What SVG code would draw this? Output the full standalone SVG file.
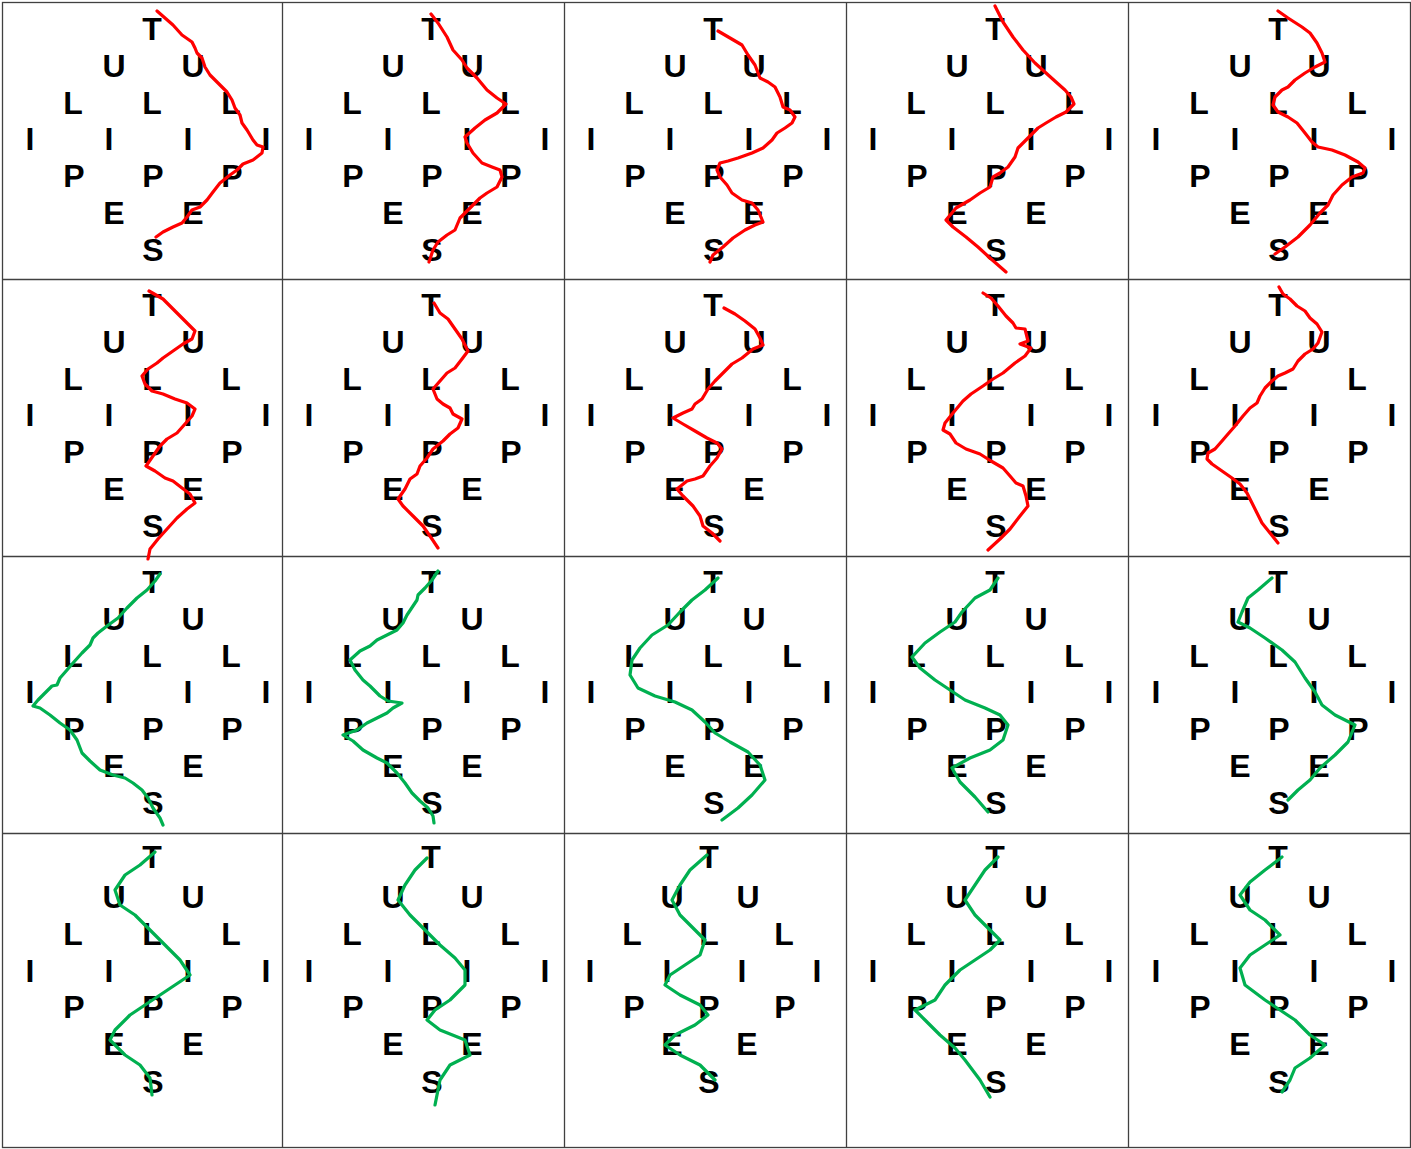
<svg xmlns="http://www.w3.org/2000/svg" width="1411" height="1149" viewBox="0 0 1411 1149">
<style>
.grid{fill:none;stroke:#404040;stroke-width:1.3}
text{font-family:"Liberation Sans",Arial,sans-serif;font-weight:bold;font-size:32px;fill:#000;text-anchor:middle}
.r{fill:none;stroke:#FF0000;stroke-width:3.2;stroke-linejoin:round;stroke-linecap:round}
.g{fill:none;stroke:#00B050;stroke-width:3.2;stroke-linejoin:round;stroke-linecap:round}
</style>
<rect width="1411" height="1149" fill="#fff"/>
<g id="grid" class="grid">
<rect x="2.5" y="2.5" width="1408" height="1145"/>
<line x1="282.5" y1="2.5" x2="282.5" y2="1147.5"/>
<line x1="564.5" y1="2.5" x2="564.5" y2="1147.5"/>
<line x1="846.5" y1="2.5" x2="846.5" y2="1147.5"/>
<line x1="1128.5" y1="2.5" x2="1128.5" y2="1147.5"/>
<line x1="2.5" y1="279.5" x2="1410.5" y2="279.5"/>
<line x1="2.5" y1="556.5" x2="1410.5" y2="556.5"/>
<line x1="2.5" y1="833.5" x2="1410.5" y2="833.5"/>
</g>
<g id="cell-r1c1" transform="translate(0,0)"><text x="152" y="40">T</text><text x="114" y="77">U</text><text x="193" y="77">U</text><text x="73" y="114">L</text><text x="152" y="114">L</text><text x="231" y="114">L</text><text x="30" y="150">I</text><text x="109" y="150">I</text><text x="188" y="150">I</text><text x="266" y="150">I</text><text x="74" y="187">P</text><text x="153" y="187">P</text><text x="232" y="187">P</text><text x="114" y="224">E</text><text x="193" y="224">E</text><text x="153" y="261">S</text></g>
<g id="cell-r1c2" transform="translate(279,0)"><text x="152" y="40">T</text><text x="114" y="77">U</text><text x="193" y="77">U</text><text x="73" y="114">L</text><text x="152" y="114">L</text><text x="231" y="114">L</text><text x="30" y="150">I</text><text x="109" y="150">I</text><text x="188" y="150">I</text><text x="266" y="150">I</text><text x="74" y="187">P</text><text x="153" y="187">P</text><text x="232" y="187">P</text><text x="114" y="224">E</text><text x="193" y="224">E</text><text x="153" y="261">S</text></g>
<g id="cell-r1c3" transform="translate(561,0)"><text x="152" y="40">T</text><text x="114" y="77">U</text><text x="193" y="77">U</text><text x="73" y="114">L</text><text x="152" y="114">L</text><text x="231" y="114">L</text><text x="30" y="150">I</text><text x="109" y="150">I</text><text x="188" y="150">I</text><text x="266" y="150">I</text><text x="74" y="187">P</text><text x="153" y="187">P</text><text x="232" y="187">P</text><text x="114" y="224">E</text><text x="193" y="224">E</text><text x="153" y="261">S</text></g>
<g id="cell-r1c4" transform="translate(843,0)"><text x="152" y="40">T</text><text x="114" y="77">U</text><text x="193" y="77">U</text><text x="73" y="114">L</text><text x="152" y="114">L</text><text x="231" y="114">L</text><text x="30" y="150">I</text><text x="109" y="150">I</text><text x="188" y="150">I</text><text x="266" y="150">I</text><text x="74" y="187">P</text><text x="153" y="187">P</text><text x="232" y="187">P</text><text x="114" y="224">E</text><text x="193" y="224">E</text><text x="153" y="261">S</text></g>
<g id="cell-r1c5" transform="translate(1126,0)"><text x="152" y="40">T</text><text x="114" y="77">U</text><text x="193" y="77">U</text><text x="73" y="114">L</text><text x="152" y="114">L</text><text x="231" y="114">L</text><text x="30" y="150">I</text><text x="109" y="150">I</text><text x="188" y="150">I</text><text x="266" y="150">I</text><text x="74" y="187">P</text><text x="153" y="187">P</text><text x="232" y="187">P</text><text x="114" y="224">E</text><text x="193" y="224">E</text><text x="153" y="261">S</text></g>
<g id="cell-r2c1" transform="translate(0,276)"><text x="152" y="40">T</text><text x="114" y="77">U</text><text x="193" y="77">U</text><text x="73" y="114">L</text><text x="152" y="114">L</text><text x="231" y="114">L</text><text x="30" y="150">I</text><text x="109" y="150">I</text><text x="188" y="150">I</text><text x="266" y="150">I</text><text x="74" y="187">P</text><text x="153" y="187">P</text><text x="232" y="187">P</text><text x="114" y="224">E</text><text x="193" y="224">E</text><text x="153" y="261">S</text></g>
<g id="cell-r2c2" transform="translate(279,276)"><text x="152" y="40">T</text><text x="114" y="77">U</text><text x="193" y="77">U</text><text x="73" y="114">L</text><text x="152" y="114">L</text><text x="231" y="114">L</text><text x="30" y="150">I</text><text x="109" y="150">I</text><text x="188" y="150">I</text><text x="266" y="150">I</text><text x="74" y="187">P</text><text x="153" y="187">P</text><text x="232" y="187">P</text><text x="114" y="224">E</text><text x="193" y="224">E</text><text x="153" y="261">S</text></g>
<g id="cell-r2c3" transform="translate(561,276)"><text x="152" y="40">T</text><text x="114" y="77">U</text><text x="193" y="77">U</text><text x="73" y="114">L</text><text x="152" y="114">L</text><text x="231" y="114">L</text><text x="30" y="150">I</text><text x="109" y="150">I</text><text x="188" y="150">I</text><text x="266" y="150">I</text><text x="74" y="187">P</text><text x="153" y="187">P</text><text x="232" y="187">P</text><text x="114" y="224">E</text><text x="193" y="224">E</text><text x="153" y="261">S</text></g>
<g id="cell-r2c4" transform="translate(843,276)"><text x="152" y="40">T</text><text x="114" y="77">U</text><text x="193" y="77">U</text><text x="73" y="114">L</text><text x="152" y="114">L</text><text x="231" y="114">L</text><text x="30" y="150">I</text><text x="109" y="150">I</text><text x="188" y="150">I</text><text x="266" y="150">I</text><text x="74" y="187">P</text><text x="153" y="187">P</text><text x="232" y="187">P</text><text x="114" y="224">E</text><text x="193" y="224">E</text><text x="153" y="261">S</text></g>
<g id="cell-r2c5" transform="translate(1126,276)"><text x="152" y="40">T</text><text x="114" y="77">U</text><text x="193" y="77">U</text><text x="73" y="114">L</text><text x="152" y="114">L</text><text x="231" y="114">L</text><text x="30" y="150">I</text><text x="109" y="150">I</text><text x="188" y="150">I</text><text x="266" y="150">I</text><text x="74" y="187">P</text><text x="153" y="187">P</text><text x="232" y="187">P</text><text x="114" y="224">E</text><text x="193" y="224">E</text><text x="153" y="261">S</text></g>
<g id="cell-r3c1" transform="translate(0,553)"><text x="152" y="40">T</text><text x="114" y="77">U</text><text x="193" y="77">U</text><text x="73" y="114">L</text><text x="152" y="114">L</text><text x="231" y="114">L</text><text x="30" y="150">I</text><text x="109" y="150">I</text><text x="188" y="150">I</text><text x="266" y="150">I</text><text x="74" y="187">P</text><text x="153" y="187">P</text><text x="232" y="187">P</text><text x="114" y="224">E</text><text x="193" y="224">E</text><text x="153" y="261">S</text></g>
<g id="cell-r3c2" transform="translate(279,553)"><text x="152" y="40">T</text><text x="114" y="77">U</text><text x="193" y="77">U</text><text x="73" y="114">L</text><text x="152" y="114">L</text><text x="231" y="114">L</text><text x="30" y="150">I</text><text x="109" y="150">I</text><text x="188" y="150">I</text><text x="266" y="150">I</text><text x="74" y="187">P</text><text x="153" y="187">P</text><text x="232" y="187">P</text><text x="114" y="224">E</text><text x="193" y="224">E</text><text x="153" y="261">S</text></g>
<g id="cell-r3c3" transform="translate(561,553)"><text x="152" y="40">T</text><text x="114" y="77">U</text><text x="193" y="77">U</text><text x="73" y="114">L</text><text x="152" y="114">L</text><text x="231" y="114">L</text><text x="30" y="150">I</text><text x="109" y="150">I</text><text x="188" y="150">I</text><text x="266" y="150">I</text><text x="74" y="187">P</text><text x="153" y="187">P</text><text x="232" y="187">P</text><text x="114" y="224">E</text><text x="193" y="224">E</text><text x="153" y="261">S</text></g>
<g id="cell-r3c4" transform="translate(843,553)"><text x="152" y="40">T</text><text x="114" y="77">U</text><text x="193" y="77">U</text><text x="73" y="114">L</text><text x="152" y="114">L</text><text x="231" y="114">L</text><text x="30" y="150">I</text><text x="109" y="150">I</text><text x="188" y="150">I</text><text x="266" y="150">I</text><text x="74" y="187">P</text><text x="153" y="187">P</text><text x="232" y="187">P</text><text x="114" y="224">E</text><text x="193" y="224">E</text><text x="153" y="261">S</text></g>
<g id="cell-r3c5" transform="translate(1126,553)"><text x="152" y="40">T</text><text x="114" y="77">U</text><text x="193" y="77">U</text><text x="73" y="114">L</text><text x="152" y="114">L</text><text x="231" y="114">L</text><text x="30" y="150">I</text><text x="109" y="150">I</text><text x="188" y="150">I</text><text x="266" y="150">I</text><text x="74" y="187">P</text><text x="153" y="187">P</text><text x="232" y="187">P</text><text x="114" y="224">E</text><text x="193" y="224">E</text><text x="153" y="261">S</text></g>
<g id="cell-r4c1" transform="translate(0,828)"><text x="152" y="40">T</text><text x="114" y="80">U</text><text x="193" y="80">U</text><text x="73" y="117">L</text><text x="152" y="117">L</text><text x="231" y="117">L</text><text x="30" y="154">I</text><text x="109" y="154">I</text><text x="188" y="154">I</text><text x="266" y="154">I</text><text x="74" y="190">P</text><text x="153" y="190">P</text><text x="232" y="190">P</text><text x="114" y="227">E</text><text x="193" y="227">E</text><text x="153" y="265">S</text></g>
<g id="cell-r4c2" transform="translate(279,828)"><text x="152" y="40">T</text><text x="114" y="80">U</text><text x="193" y="80">U</text><text x="73" y="117">L</text><text x="152" y="117">L</text><text x="231" y="117">L</text><text x="30" y="154">I</text><text x="109" y="154">I</text><text x="188" y="154">I</text><text x="266" y="154">I</text><text x="74" y="190">P</text><text x="153" y="190">P</text><text x="232" y="190">P</text><text x="114" y="227">E</text><text x="193" y="227">E</text><text x="153" y="265">S</text></g>
<g id="cell-r4c3" transform="translate(561,828)"><text x="148" y="40">T</text><text x="111" y="80">U</text><text x="187" y="80">U</text><text x="71" y="117">L</text><text x="148" y="117">L</text><text x="223" y="117">L</text><text x="29" y="154">I</text><text x="106" y="154">I</text><text x="181" y="154">I</text><text x="256" y="154">I</text><text x="73" y="190">P</text><text x="148" y="190">P</text><text x="224" y="190">P</text><text x="111" y="227">E</text><text x="186" y="227">E</text><text x="148" y="265">S</text></g>
<g id="cell-r4c4" transform="translate(843,828)"><text x="152" y="40">T</text><text x="114" y="80">U</text><text x="193" y="80">U</text><text x="73" y="117">L</text><text x="152" y="117">L</text><text x="231" y="117">L</text><text x="30" y="154">I</text><text x="109" y="154">I</text><text x="188" y="154">I</text><text x="266" y="154">I</text><text x="74" y="190">P</text><text x="153" y="190">P</text><text x="232" y="190">P</text><text x="114" y="227">E</text><text x="193" y="227">E</text><text x="153" y="265">S</text></g>
<g id="cell-r4c5" transform="translate(1126,828)"><text x="152" y="40">T</text><text x="114" y="80">U</text><text x="193" y="80">U</text><text x="73" y="117">L</text><text x="152" y="117">L</text><text x="231" y="117">L</text><text x="30" y="154">I</text><text x="109" y="154">I</text><text x="188" y="154">I</text><text x="266" y="154">I</text><text x="74" y="190">P</text><text x="153" y="190">P</text><text x="232" y="190">P</text><text x="114" y="227">E</text><text x="193" y="227">E</text><text x="153" y="265">S</text></g>
<g id="connectors">
<polyline class="r" points="157,11 173,25 182,35 192,42 195,48 197,53 202,58 205,67 210,75 218,83 227,92 232,100 235,108 240,115 242,123 247,130 253,140 257,145 263,147 262,153 253,160 243,164 237,170 230,175 220,183 213,192 207,200 200,207 192,210 187,217 182,223 173,227 163,232 156,237"/>
<polyline class="r" points="431,14 438,23 447,37 453,50 462,60 467,68 477,78 487,90 497,98 506,104 497,113 485,120 475,128 465,137 467,143 473,153 482,163 492,167 500,170 502,177 497,187 487,193 480,198 470,208 460,218 455,230 447,235 438,242 433,250 429,262"/>
<polyline class="r" points="718,31 730,38 742,45 748,55 755,65 760,78 768,82 775,87 780,97 783,107 790,110 795,117 792,123 785,128 777,133 772,140 763,148 752,153 738,158 728,161 720,163 717,170 720,177 727,185 732,193 742,200 752,203 758,210 763,222 755,225 745,230 733,238 723,247 713,255 710,262"/>
<polyline class="r" points="995,6 1003,22 1013,37 1023,50 1035,63 1046,73 1056,82 1065,90 1071,97 1074,104 1066,112 1056,117 1046,123 1038,128 1031,135 1023,143 1018,148 1015,157 1008,167 1000,173 993,177 990,187 980,193 970,200 956,208 946,220 953,227 966,237 978,247 990,258 1006,272"/>
<polyline class="r" points="1278,11 1288,18 1302,27 1310,33 1317,43 1322,53 1325,62 1315,67 1305,73 1295,80 1288,87 1282,90 1275,97 1273,105 1278,112 1288,117 1297,123 1305,133 1312,142 1318,147 1332,150 1345,155 1358,162 1365,168 1363,173 1352,177 1342,185 1333,195 1328,205 1320,213 1310,225 1298,237 1285,247 1275,254"/>
<polyline class="r" points="149,291 163,299 173,309 185,321 195,331 192,339 183,344 173,351 163,358 157,363 148,369 142,376 145,384 152,391 163,394 175,399 187,403 195,409 192,416 185,424 177,433 167,439 160,446 153,456 146,466 155,471 165,478 173,481 182,488 190,494 195,503 187,509 177,518 167,529 158,539 150,549 148,559"/>
<polyline class="r" points="434,303 440,313 448,319 455,329 462,339 468,351 462,359 455,368 447,373 440,381 433,389 437,399 443,404 450,408 453,414 462,419 458,428 450,434 443,441 433,449 427,458 420,466 417,474 410,479 405,489 398,499 403,506 413,516 423,526 432,539 438,548"/>
<polyline class="r" points="724,308 735,314 745,321 755,329 760,338 763,345 753,349 742,358 732,364 723,373 715,381 708,389 702,399 695,404 692,409 683,413 673,418 683,424 695,431 707,438 717,443 722,449 717,458 710,466 703,476 695,479 687,481 677,489 683,496 693,506 700,516 703,526 712,533 720,541"/>
<polyline class="r" points="983,293 991,298 998,306 1006,316 1013,323 1016,328 1025,329 1028,341 1020,344 1031,348 1025,356 1015,363 1003,373 993,379 983,386 971,394 963,401 953,413 945,423 943,430 950,434 956,443 966,449 980,454 991,461 1003,468 1010,476 1016,483 1023,486 1026,496 1028,506 1020,516 1010,529 1000,539 988,550"/>
<polyline class="r" points="1279,287 1283,294 1290,299 1297,306 1305,311 1310,318 1317,324 1322,332 1318,343 1313,349 1305,354 1298,361 1293,369 1285,373 1278,376 1272,381 1265,388 1260,396 1257,403 1250,408 1243,416 1235,426 1228,434 1222,441 1215,449 1208,453 1207,459 1212,464 1222,471 1232,478 1240,484 1247,493 1252,503 1257,513 1262,523 1270,533 1278,543"/>
<polyline class="g" points="160,574 155,581 147,590 137,598 127,608 118,618 107,626 98,633 93,638 90,645 82,653 73,663 67,670 60,678 57,685 52,686 45,693 38,700 33,706 40,708 50,715 60,723 70,730 77,740 82,753 90,761 100,770 113,775 125,778 133,783 142,790 148,798 153,808 160,818 163,825"/>
<polyline class="g" points="438,571 432,580 425,588 418,595 417,600 413,606 407,615 403,623 397,630 387,635 377,640 370,646 360,651 350,660 355,670 363,680 370,686 380,696 388,701 402,703 393,708 387,713 377,718 367,723 357,730 343,735 353,741 363,750 377,758 387,763 397,773 405,783 412,793 420,801 428,808 433,816 434,823"/>
<polyline class="g" points="718,578 705,590 692,600 680,612 668,625 652,635 640,648 632,660 630,675 638,688 655,696 675,702 692,710 705,722 715,733 730,742 748,752 760,765 765,780 752,795 738,808 722,820"/>
<polyline class="g" points="998,578 990,590 975,598 962,612 955,622 940,632 925,643 912,657 920,668 935,680 950,690 965,700 985,708 1000,715 1008,725 1003,740 990,750 970,758 952,768 960,782 975,797 988,812"/>
<polyline class="g" points="1272,578 1258,590 1248,598 1242,612 1238,622 1250,628 1265,638 1282,650 1295,662 1305,678 1315,692 1322,705 1335,715 1355,725 1348,742 1335,755 1320,768 1310,780 1298,790 1288,800"/>
<polyline class="g" points="155,852 140,865 125,875 115,890 120,905 135,915 150,930 165,945 180,960 190,975 175,985 160,995 145,1005 130,1015 115,1030 110,1040 125,1055 140,1065 150,1078 152,1095"/>
<polyline class="g" points="427,858 415,870 405,885 398,900 410,915 425,930 440,945 455,958 465,970 465,985 450,1000 435,1010 427,1020 440,1030 465,1040 470,1055 450,1065 440,1080 435,1105"/>
<polyline class="g" points="707,855 690,870 680,885 672,900 680,915 695,930 705,940 700,955 685,965 670,975 665,985 680,995 700,1005 708,1015 695,1025 675,1035 665,1045 680,1055 700,1065 715,1080"/>
<polyline class="g" points="998,857 985,870 975,885 965,900 975,915 990,930 1000,940 990,950 975,960 960,970 945,985 935,1000 915,1010 925,1020 940,1035 955,1048 965,1060 980,1080 990,1097"/>
<polyline class="g" points="1282,857 1265,870 1250,882 1240,895 1250,910 1265,920 1280,935 1265,945 1250,955 1240,968 1245,985 1265,1000 1280,1010 1295,1020 1310,1035 1325,1045 1310,1058 1295,1068 1290,1080 1282,1092"/>
</g>
</svg>
